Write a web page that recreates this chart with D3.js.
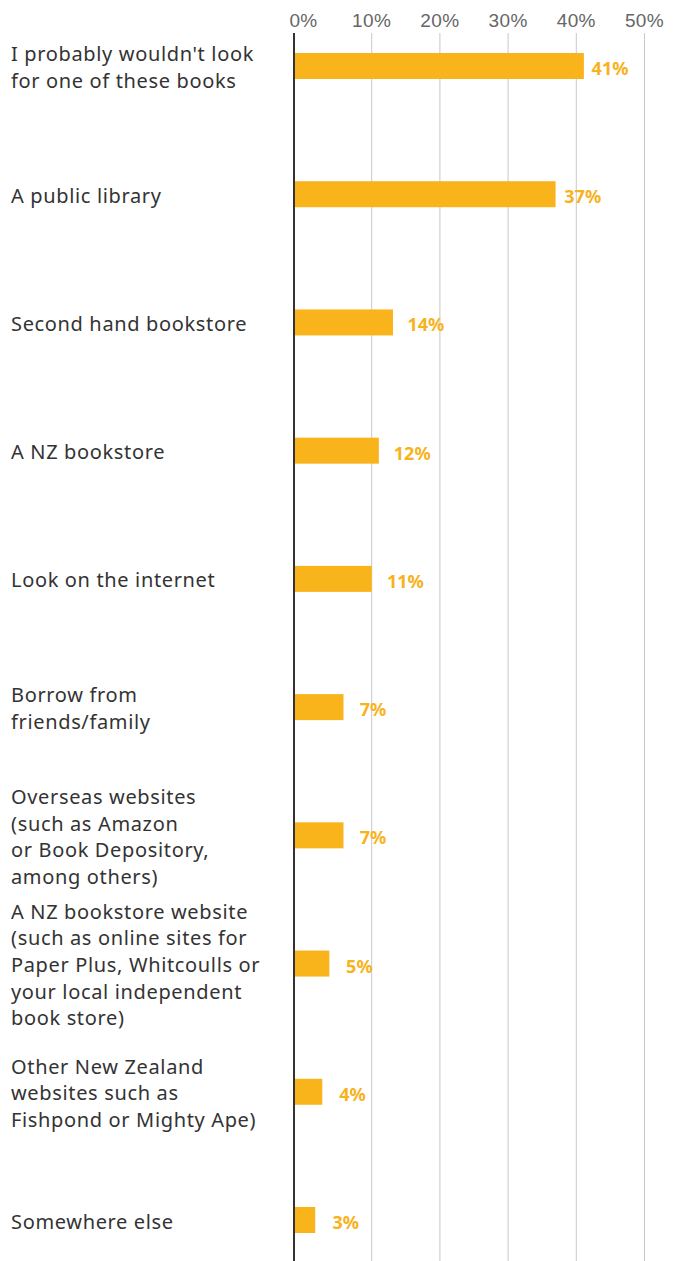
<!DOCTYPE html>
<html lang="en">
<head>
  <meta charset="UTF-8">
  <title>Where would you look for these books</title>
  <style>
  body { margin: 0; background: #fff; }
  svg { display: block; font-family: "Noto Sans", sans-serif; }
  .cat { font-size: 20px; fill: #333; letter-spacing: 0.65px; }
  .val { font-size: 18px; font-weight: bold; fill: #f7b21c; }
  .tick text { font-size: 19px; fill: #666; font-weight: 300; letter-spacing: 0.4px; }
  .tick line { stroke: #c8c8c8; }
  </style>
  <script src="https://d3js.org/d3.v7.min.js"></script>
</head>
<body>
<div id="chart"></div>
<script>
// data
var categories = [
  ["I probably wouldn't look", "for one of these books"],
  ["A public library"],
  ["Second hand bookstore"],
  ["A NZ bookstore"],
  ["Look on the internet"],
  ["Borrow from", "friends/family"],
  ["Overseas websites", "(such as Amazon", "or Book Depository,", "among others)"],
  ["A NZ bookstore website", "(such as online sites for", "Paper Plus, Whitcoulls or", "your local independent", "book store)"],
  ["Other New Zealand", "websites such as", "Fishpond or Mighty Ape)"],
  ["Somewhere else"]
];
var values = [41, 37, 14, 12, 11, 7, 7, 5, 4, 3];
var tickValues = [0, 10, 20, 30, 40, 50];

var width = 683, height = 1261;
var baseX = 294;

var svg = d3.select("#chart").append("svg")
    .attr("width", width)
    .attr("height", height);

// grid / axis scale
var x = d3.scaleLinear().domain([0, 50]).range([303, 644]);
// bars start at the zero line
var xBar = d3.scaleLinear().domain([0, 50]).range([baseX, baseX + 353.5]);

var y = d3.scalePoint()
    .domain(d3.range(categories.length))
    .range([66, 1220]);

var barH = 26;

var axis = svg.append("g")
    .attr("transform", "translate(0,33)")
    .call(d3.axisTop(x)
        .tickValues(tickValues)
        .tickFormat(function(d) { return d + "%"; })
        .tickSizeInner(-(height - 33))
        .tickSizeOuter(0)
        .tickPadding(6));
axis.select(".domain").remove();
axis.selectAll(".tick").filter(function(d) { return d === 0; }).select("line").remove();

svg.selectAll("rect.bar")
    .data(values)
    .enter()
    .append("rect")
    .attr("class", "bar")
    .attr("x", baseX)
    .attr("y", function(d, i) { return y(i) - barH / 2; })
    .attr("width", function(d) { return xBar(d) - baseX; })
    .attr("height", barH)
    .attr("fill", "#f9b31b");

svg.append("line")
    .attr("x1", baseX).attr("x2", baseX)
    .attr("y1", 33).attr("y2", height)
    .attr("stroke", "#333")
    .attr("stroke-width", 2);

svg.selectAll("text.val")
    .data(values)
    .enter()
    .append("text")
    .attr("class", "val")
    .attr("x", function(d) { return x(d) + 9; })
    .attr("y", function(d, i) { return y(i) + 9; })
    .text(function(d) { return d + "%"; });

var lineH = 26.6;
var cat = svg.selectAll("text.cat")
    .data(categories)
    .enter()
    .append("text")
    .attr("class", "cat")
    .attr("x", 11)
    .attr("y", function(d, i) { return y(i) + 8.5 - (d.length - 1) * lineH / 2; });

cat.selectAll("tspan")
    .data(function(d) { return d; })
    .enter()
    .append("tspan")
    .attr("x", 11)
    .attr("dy", function(d, i) { return i === 0 ? 0 : lineH; })
    .text(function(d) { return d; });
</script>
</body>
</html>
